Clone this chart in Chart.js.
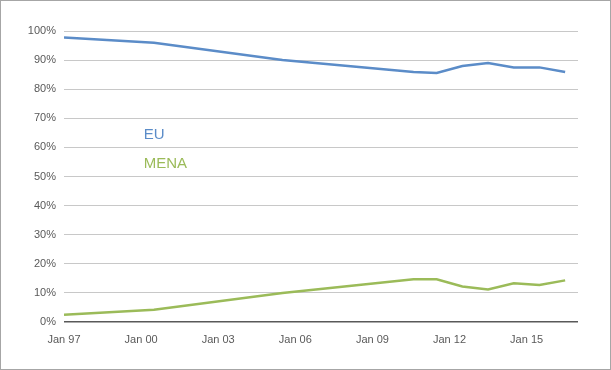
<!DOCTYPE html>
<html>
<head>
<meta charset="utf-8">
<script src="https://cdn.jsdelivr.net/npm/chart.js@4"></script>
<style>
    html, body { margin: 0; padding: 0; background: #fff; }
    #wrap { width: 611px; height: 370px; position: relative; }
</style>
</head>
<body>
<div id="wrap"><canvas id="grafico"></canvas></div>
<script>
// survey dates as decimal years
const years = [1997, 2000.5, 2005.5, 2010.6, 2011.5, 2012.5, 2013.5, 2014.5, 2015.5, 2016.5];
const euValues = [97.8, 96.0, 90.0, 85.9, 85.6, 88.0, 89.0, 87.5, 87.5, 85.9];
const menaValues = [2.5, 4.2, 10.0, 14.7, 14.7, 12.2, 11.2, 13.3, 12.7, 14.3];

const tickYears = [1997, 2000, 2003, 2006, 2009, 2012, 2015];
const tickLabels = ["Jan 97", "Jan 00", "Jan 03", "Jan 06", "Jan 09", "Jan 12", "Jan 15"];

const seriesNames = ["EU", "MENA"];
const seriesColors = ["#5b8cc8", "#9bbb59"];

const grafico = document.getElementById("grafico");

// Fundo branco, moldura e rótulos das séries
const decorPlugin = {
    id: "decor",
    beforeDraw(chart) {
        const ctx = chart.ctx;
        ctx.save();
        ctx.fillStyle = "#fff";
        ctx.fillRect(0, 0, chart.width, chart.height);
        ctx.restore();
    },
    afterDraw(chart) {
        const ctx = chart.ctx;
        const x = chart.scales.x;
        const y = chart.scales.y;
        ctx.save();
        ctx.strokeStyle = "#a6a6a6";
        ctx.lineWidth = 1;
        ctx.strokeRect(0.5, 0.5, chart.width - 1, chart.height - 1);
        ctx.font = "15px 'Liberation Sans', Arial, sans-serif";
        ctx.textBaseline = "alphabetic";
        ctx.textAlign = "left";
        const labelPos = [[2000.1, 63], [2000.1, 53]];
        seriesNames.forEach((name, i) => {
            ctx.fillStyle = seriesColors[i];
            ctx.fillText(name, x.getPixelForValue(labelPos[i][0]), y.getPixelForValue(labelPos[i][1]));
        });
        ctx.restore();
    },
};

const toPoints = (vals) => years.map((yr, i) => ({ x: yr, y: vals[i] }));

new Chart(grafico, {
    type: "line",
    data: {
        datasets: [
            {
                label: seriesNames[0],
                data: toPoints(euValues),
                borderColor: seriesColors[0],
                borderWidth: 2.5,
                pointRadius: 0,
                tension: 0,
            },
            {
                label: seriesNames[1],
                data: toPoints(menaValues),
                borderColor: seriesColors[1],
                borderWidth: 2.5,
                pointRadius: 0,
                tension: 0,
            },
        ],
    },
    options: {
        responsive: true,
        maintainAspectRatio: false,
        animation: false,
        layout: { padding: { top: 31, right: 33, bottom: 0, left: 0 } },
        plugins: {
            legend: { display: false },
            tooltip: { enabled: false },
        },
        scales: {
            x: {
                type: "linear",
                min: 1997,
                max: 2017,
                afterBuildTicks: (scale) => {
                    scale.ticks = tickYears.map((v) => ({ value: v }));
                },
                afterFit: (scale) => {
                    scale.height = 48;
                },
                grid: { display: false, drawTicks: false },
                border: { display: false },
                ticks: {
                    padding: 11,
                    maxRotation: 0,
                    autoSkip: false,
                    color: "#595959",
                    font: { size: 11, family: "'Liberation Sans', Arial, sans-serif" },
                    callback: (v) => tickLabels[tickYears.indexOf(v)],
                },
            },
            y: {
                min: 0,
                max: 100,
                afterFit: (scale) => {
                    scale.width = 64;
                },
                grid: {
                    drawTicks: false,
                    color: (c) => (c.tick && c.tick.value === 0 ? "#595959" : "#c8c8c8"),
                    lineWidth: (c) => (c.tick && c.tick.value === 0 ? 1.5 : 1),
                },
                border: { display: false },
                ticks: {
                    stepSize: 10,
                    padding: 8,
                    color: "#595959",
                    font: { size: 11, family: "'Liberation Sans', Arial, sans-serif" },
                    callback: (v) => v + "%",
                },
            },
        },
    },
    plugins: [decorPlugin],
});
</script>
</body>
</html>
